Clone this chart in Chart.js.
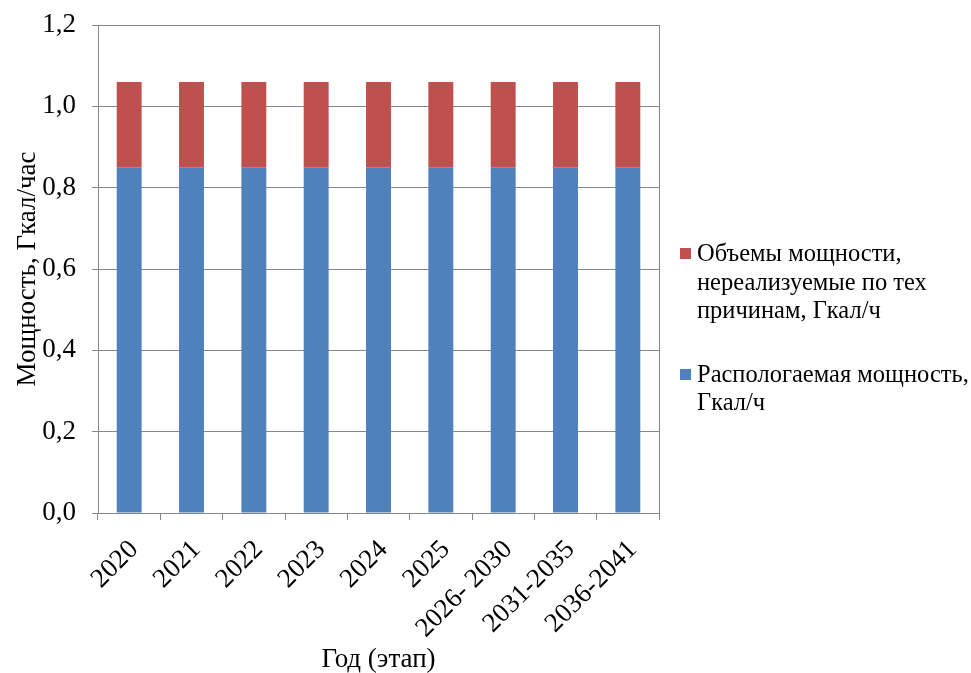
<!DOCTYPE html>
<html>
<head>
<meta charset="utf-8">
<script src="https://cdn.jsdelivr.net/npm/chart.js@4/dist/chart.umd.min.js"></script>
<style>
  html, body { margin: 0; padding: 0; background: #fff; }
  #wrap { position: relative; width: 971px; height: 673px; }
  #legend {
    position: absolute; left: 680px; top: 239px; width: 291px;
    font-family: "Liberation Serif", "Times New Roman", serif; font-size: 24.5px; line-height: 28.5px; color: #000;
    white-space: nowrap;
  }
  .item { position: relative; padding-left: 17px; margin-bottom: 35px; }
  .box { position: absolute; left: 0; top: 9px; width: 11px; height: 11px; }
</style>
</head>
<body>
<div id="wrap">
  <canvas id="c" width="971" height="673"></canvas>
  <div id="legend"></div>
</div>
<script>
const categories = ['2020', '2021', '2022', '2023', '2024', '2025', '2026- 2030', '2031-2035', '2036-2041'];
const availablePower = [0.85, 0.85, 0.85, 0.85, 0.85, 0.85, 0.85, 0.85, 0.85];
const unusablePower = [0.21, 0.21, 0.21, 0.21, 0.21, 0.21, 0.21, 0.21, 0.21];
const availableLabel = ['Распологаемая мощность,', 'Гкал/ч'];
const unusableLabel = ['Объемы мощности,', 'нереализуемые по тех', 'причинам, Гкал/ч'];
const yTitle = 'Мощность, Гкал/час';
const xTitle = 'Год (этап)';

const FONT = "'Liberation Serif', 'Times New Roman', serif";
const SIZE = 27;
const GRID = '#878787';

// plot frame: fixed axis bands around the bars
const Y_AXIS_WIDTH = 98;
const X_AXIS_HEIGHT = 160;

// right edge of the plot frame
const frameRight = {
  id: 'frameRight',
  afterDraw(chart) {
    const a = chart.chartArea, ctx = chart.ctx;
    ctx.save();
    ctx.strokeStyle = GRID; ctx.lineWidth = 1;
    ctx.beginPath();
    ctx.moveTo(Math.round(a.right) + 0.5, a.top);
    ctx.lineTo(Math.round(a.right) + 0.5, a.bottom);
    ctx.stroke();
    ctx.restore();
  }
};

const chart = new Chart(document.getElementById('c'), {
  type: 'bar',
  data: {
    labels: categories,
    datasets: [
      { label: availableLabel, data: availablePower, backgroundColor: '#4F81BD', stack: 's' },
      { label: unusableLabel, data: unusablePower, backgroundColor: '#C0504D', stack: 's' }
    ]
  },
  options: {
    responsive: false,
    animation: false,
    layout: { padding: { top: 25, right: 312, left: 0, bottom: 0 } },
    datasets: { bar: { categoryPercentage: 1, barPercentage: 0.4 } },
    plugins: { legend: { display: false }, tooltip: { enabled: false } },
    scales: {
      x: {
        stacked: true,
        grid: { offset: true, drawOnChartArea: false, drawTicks: true, tickLength: 7, color: GRID },
        border: { color: GRID },
        ticks: { color: '#000', font: { family: FONT, size: SIZE }, maxRotation: 45, minRotation: 45, padding: 14, labelOffset: 5 },
        title: { display: true, text: xTitle, color: '#000', font: { family: FONT, size: SIZE, lineHeight: 1 }, padding: { top: 0, bottom: 0 } },
        afterFit(s) { s.height = X_AXIS_HEIGHT; s.paddingLeft = 0; s.paddingRight = 0; }
      },
      y: {
        stacked: true,
        min: 0, max: 1.2,
        grid: { color: GRID, tickLength: 6 },
        border: { color: GRID },
        ticks: {
          stepSize: 0.2, color: '#000', font: { family: FONT, size: SIZE }, padding: 16,
          callback: v => Number(v).toFixed(1).replace('.', ',')
        },
        title: { display: true, text: yTitle, color: '#000', font: { family: FONT, size: SIZE }, padding: { top: 12, bottom: 0 } },
        afterFit(s) { s.width = Y_AXIS_WIDTH; s.paddingTop = 0; s.paddingBottom = 0; }
      }
    }
  },
  plugins: [frameRight]
});

// legend built from the datasets, top series first
const legend = document.getElementById('legend');
chart.data.datasets.slice().reverse().forEach(ds => {
  const item = document.createElement('div');
  item.className = 'item';
  const box = document.createElement('span');
  box.className = 'box';
  box.style.background = ds.backgroundColor;
  item.appendChild(box);
  item.insertAdjacentHTML('beforeend', ds.label.join('<br>'));
  legend.appendChild(item);
});
</script>
</body>
</html>
